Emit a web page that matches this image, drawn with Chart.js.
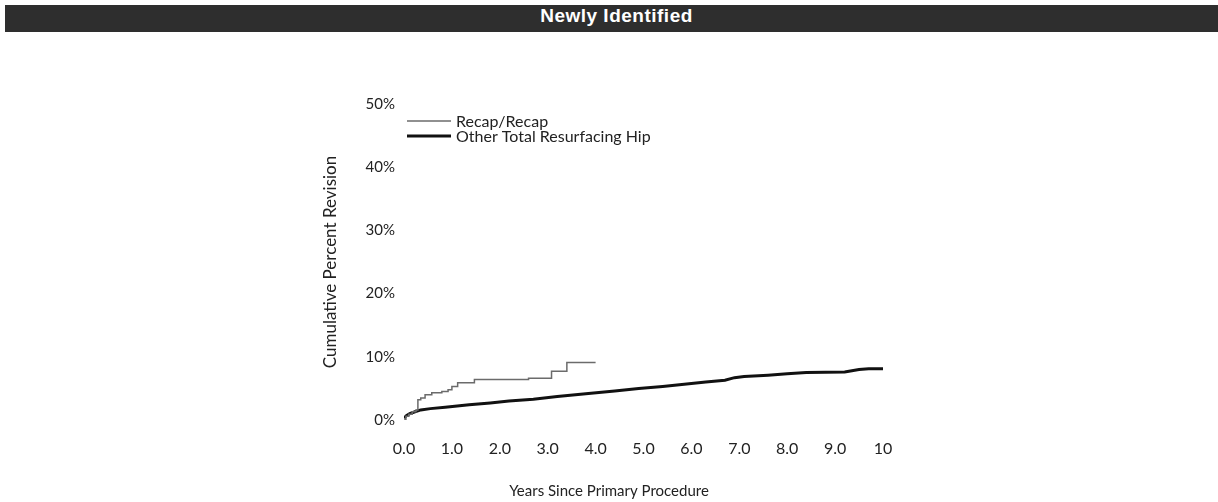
<!DOCTYPE html>
<html>
<head>
<meta charset="utf-8">
<script src="https://cdn.jsdelivr.net/npm/chart.js@4"></script>
<style>
  body { margin: 0; background: #fff; }
  #wrap { position: relative; width: 1218px; height: 502px; }
  #head {
    position: absolute; left: 5px; right: 0; top: 5px; height: 27px;
    background: #2e2e2e;
    color: #fff; font: bold 19px "Liberation Sans", Arial, sans-serif;
    letter-spacing: 0.5px; text-align: center; line-height: 22px;
  }
  #head span { position: relative; left: 5px; }
</style>
</head>
<body>
<div id="wrap">
  <canvas id="chart" width="1218" height="502"></canvas>
  <div id="head"><span>Newly Identified</span></div>
</div>
<script>
// Kaplan-Meier style cumulative percent revision
const recapYears = [0, 0.04, 0.1, 0.17, 0.25, 0.29, 0.35, 0.44, 0.58, 0.79, 0.92, 1.0, 1.12, 1.47, 2.6, 3.08, 3.4, 4.0];
const recapPct   = [0, 0.6, 0.9, 1.3, 1.6, 3.2, 3.5, 4.0, 4.3, 4.5, 4.8, 5.3, 5.9, 6.4, 6.6, 7.7, 9.1, 9.1];

const otherYears = [0, 0.05, 0.12, 0.23, 0.35, 0.55, 0.86, 1.36, 1.8, 2.19, 2.7, 3.2, 3.85, 4.4, 4.9, 5.4, 5.8, 6.3, 6.7, 6.9, 7.1, 7.6, 8.0, 8.4, 9.2, 9.35, 9.5, 9.7, 10.0];
const otherPct   = [0.3, 0.7, 1.0, 1.3, 1.6, 1.8, 2.0, 2.4, 2.7, 3.0, 3.3, 3.7, 4.2, 4.6, 5.0, 5.3, 5.6, 6.0, 6.3, 6.7, 6.9, 7.1, 7.3, 7.5, 7.6, 7.8, 8.0, 8.1, 8.1];

const seriesNames = ["Recap/Recap", "Other Total Resurfacing Hip"];
const xTicks = [0, 1, 2, 3, 4, 5, 6, 7, 8, 9, 10];
const yTicks = [0, 10, 20, 30, 40, 50];
const xTitle = "Years Since Primary Procedure";

const font = "Lato";

const toPoints = (xs, ys) => xs.map((x, i) => ({ x: x, y: ys[i] }));

// legend in the top-left of the plot area, x title centred on the page
const extras = {
  id: "extras",
  afterDraw(chart) {
    const { ctx, chartArea } = chart;
    ctx.save();
    ctx.font = "16px " + font;
    ctx.textBaseline = "middle";
    chart.data.datasets.forEach((ds, i) => {
      const y = chartArea.top + 17 + i * 15;
      ctx.strokeStyle = ds.borderColor;
      ctx.lineWidth = ds.borderWidth;
      ctx.beginPath();
      ctx.moveTo(chartArea.left + 3, y);
      ctx.lineTo(chartArea.left + 47, y);
      ctx.stroke();
      ctx.fillStyle = "#222";
      ctx.fillText(ds.label, chartArea.left + 52, y + 1);
    });
    ctx.font = "15px " + font;
    ctx.textAlign = "center";
    ctx.fillText(xTitle, chart.width / 2, 491);
    ctx.restore();
  }
};

new Chart(document.getElementById("chart"), {
  type: "line",
  data: {
    datasets: [
      {
        label: seriesNames[0],
        data: toPoints(recapYears, recapPct),
        borderColor: "#6b6b6b",
        borderWidth: 1.5,
        stepped: "before",
        pointRadius: 0,
        fill: false
      },
      {
        label: seriesNames[1],
        data: toPoints(otherYears, otherPct),
        borderColor: "#111",
        borderWidth: 3,
        pointRadius: 0,
        tension: 0,
        fill: false
      }
    ]
  },
  options: {
    responsive: false,
    animation: false,
    layout: { padding: { left: 318, right: 335, top: 104, bottom: 0 } },
    plugins: {
      legend: { display: false },
      tooltip: { enabled: false }
    },
    scales: {
      x: {
        type: "linear",
        min: 0,
        max: 10,
        afterBuildTicks: (s) => { s.ticks = xTicks.map((v) => ({ value: v })); },
        afterFit: (s) => { s.height = 82; },
        grid: { display: false, drawTicks: false },
        border: { display: false },
        ticks: {
          padding: 19,
          color: "#222",
          font: { family: font, size: 16 },
          callback: (v) => (v === 10 ? "10" : v.toFixed(1))
        }
      },
      y: {
        min: 0,
        max: 50,
        afterBuildTicks: (s) => { s.ticks = yTicks.map((v) => ({ value: v })); },
        afterFit: (s) => { s.width = 86; },
        grid: { display: false, drawTicks: false },
        border: { display: false },
        ticks: {
          padding: 9,
          color: "#222",
          font: { family: font, size: 15 },
          callback: (v) => v + "%"
        },
        title: {
          display: true,
          text: "Cumulative Percent Revision",
          color: "#222",
          font: { family: font, size: 17 },
          padding: 2
        }
      }
    }
  },
  plugins: [extras]
});
</script>
</body>
</html>
